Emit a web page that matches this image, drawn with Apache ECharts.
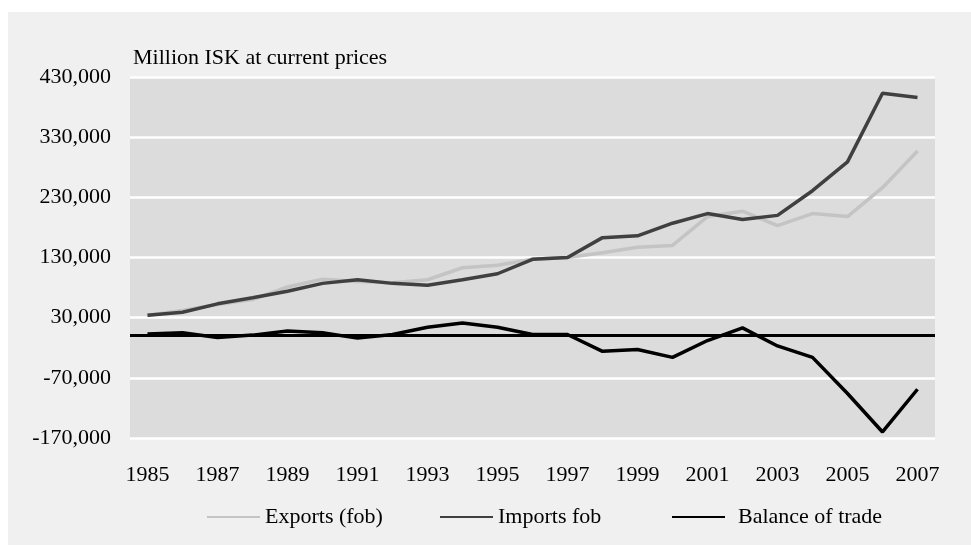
<!DOCTYPE html>
<html>
<head>
<meta charset="utf-8">
<script src="https://cdn.jsdelivr.net/npm/echarts@6/dist/echarts.min.js"></script>
<style>
html,body{margin:0;padding:0;background:#ffffff;}
#wrap{position:relative;width:971px;height:545px;background:#ffffff;overflow:hidden;}
#panel{position:absolute;left:8px;top:12px;width:963px;height:533px;background:#f0f0f0;}
#chart{position:absolute;left:0;top:0;width:971px;height:545px;}
</style>
</head>
<body>
<div id="wrap"><div id="panel"></div><div id="chart"></div></div>
<script>
const years = ['1985','1986','1987','1988','1989','1990','1991','1992','1993','1994','1995','1996','1997','1998','1999','2000','2001','2002','2003','2004','2005','2006','2007'];
const exportsFob = [34000,42000,52000,60000,81000,94000,90000,88000,93000,113000,117000,127000,130000,138000,147000,150000,198000,207000,183000,203000,198000,246000,307000];
const importsFob = [34000,39000,53000,63000,74000,87000,93000,87000,84000,93000,103000,127000,130000,163000,166000,187000,203000,193000,200000,241000,289000,403000,396000];
const balance = [3000,5000,-3000,1000,8000,5000,-4000,2000,14000,21000,14000,2000,2000,-26000,-23000,-36000,-8000,13000,-17000,-36000,-96000,-160000,-89000];
const yTicks = {min:-170000, max:430000, interval:100000};
const seriesNames = ['Exports (fob)','Imports fob','Balance of trade'];
const titleText = 'Million ISK at current prices';

const FONT = 'Liberation Serif';
function fmt(v){
  const neg = v < 0; let s = String(Math.abs(v));
  s = s.replace(/\B(?=(\d{3})+(?!\d))/g, ',');
  return (neg ? '-' : '') + s;
}
const legendLefts = [202, 435, 667];
const legendTextPad = [0, 0, 8];
const chart = echarts.init(document.getElementById('chart'), null, {renderer:'canvas'});
chart.setOption({
  backgroundColor: 'transparent',
  animation: false,
  title: {
    text: titleText, left: 128, top: 42,
    textStyle: {fontFamily: FONT, fontSize: 22, fontWeight: 'normal', color: '#000'}
  },
  legend: seriesNames.map((n, i) => ({
    data: [n], top: 501, left: legendLefts[i],
    icon: 'rect', itemWidth: 53, itemHeight: 2,
    textStyle: {fontFamily: FONT, fontSize: 22, color: '#000', padding: [0, 0, 0, legendTextPad[i]]}
  })),
  grid: {
    left: 130, right: 36, top: 77, bottom: 107,
    show: true, backgroundColor: '#dcdcdc', borderWidth: 0, containLabel: false
  },
  xAxis: {
    type: 'category', data: years, boundaryGap: true,
    axisLine: {show: false}, axisTick: {show: false},
    axisLabel: {interval: 1, margin: 26, fontFamily: FONT, fontSize: 22, color: '#000'},
    splitLine: {show: false}
  },
  yAxis: {
    type: 'value', min: yTicks.min, max: yTicks.max, interval: yTicks.interval,
    axisLine: {show: false}, axisTick: {show: false},
    axisLabel: {margin: 19, fontFamily: FONT, fontSize: 22, color: '#000', formatter: fmt},
    splitLine: {show: true, lineStyle: {color: '#ffffff', width: 2.5}}
  },
  series: [
    {name: seriesNames[0], type: 'line', data: exportsFob, symbol: 'none',
     lineStyle: {color: '#c4c4c4', width: 3.5}, itemStyle: {color: '#c4c4c4'}, z: 2},
    {name: seriesNames[1], type: 'line', data: importsFob, symbol: 'none',
     lineStyle: {color: '#404040', width: 3.5}, itemStyle: {color: '#404040'}, z: 3},
    {name: seriesNames[2], type: 'line', data: balance, symbol: 'none',
     lineStyle: {color: '#000000', width: 3.5}, itemStyle: {color: '#000000'}, z: 4,
     markLine: {silent: true, symbol: ['none','none'], label: {show: false},
       lineStyle: {color: '#000000', width: 3, type: 'solid'},
       data: [{yAxis: 0}]}}
  ]
});
</script>
</body>
</html>
